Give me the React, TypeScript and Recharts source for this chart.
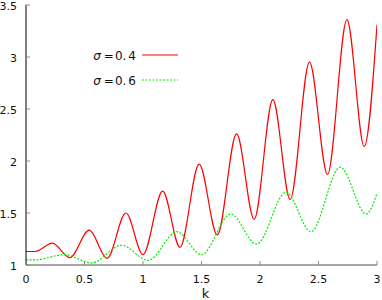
import React from 'react';
import { LineChart, Line, XAxis, YAxis } from 'recharts';

const xTicks = [0, 0.5, 1, 1.5, 2, 2.5, 3];
const yTicks = [1, 1.5, 2, 2.5, 3, 3.5];

const redK = [0, 0.08, 0.225, 0.374, 0.54, 0.693, 0.854, 1.0, 1.168, 1.316, 1.48, 1.635, 1.8, 1.95, 2.11, 2.258, 2.423, 2.577, 2.743, 2.891, 3.0];
const redV = [1.13, 1.13, 1.21, 1.07, 1.335, 1.065, 1.5, 1.1, 1.71, 1.17, 1.97, 1.29, 2.26, 1.44, 2.59, 1.63, 2.95, 1.87, 3.36, 2.14, 3.31];

const greenK = [0, 0.08, 0.33, 0.56, 0.816, 1.045, 1.29, 1.5, 1.75, 1.97, 2.223, 2.435, 2.686, 2.908, 3.0];
const greenV = [1.05, 1.05, 1.1, 1.02, 1.19, 1.045, 1.32, 1.1, 1.49, 1.2, 1.7, 1.32, 1.94, 1.49, 1.69];

const seriesNames = ['0.4', '0.6'];
const seriesColors = ['#ff0000', '#00ee00'];

const redData = redK.map((k, i) => ({ k, v: redV[i] }));
const greenData = greenK.map((k, i) => ({ k, v: greenV[i] }));

const FONT = 'DejaVu Sans';
const GRAY = '#8a8a8a';

const BottomTick = (props: any) => {
  const { x, y, payload } = props;
  return (
    <g>
      <line x1={x} y1={y} x2={x} y2={y - 4} stroke={GRAY} strokeWidth={1} />
      <text x={x} y={y + 18} textAnchor="middle" fontFamily={FONT} fontSize={11} fill="#111">
        {payload.value}
      </text>
    </g>
  );
};

const TopTick = (props: any) => {
  const { x, y } = props;
  return <line x1={x} y1={y} x2={x} y2={y + 4} stroke={GRAY} strokeWidth={1} />;
};

const LeftTick = (props: any) => {
  const { x, y, payload } = props;
  return (
    <g>
      <line x1={x} y1={y} x2={x + 4} y2={y} stroke={GRAY} strokeWidth={1} />
      <text x={x - 9} y={y + 5} textAnchor="end" fontFamily={FONT} fontSize={11} fill="#111">
        {payload.value}
      </text>
    </g>
  );
};

const RightTick = (props: any) => {
  const { x, y } = props;
  return <line x1={x} y1={y} x2={x - 4} y2={y} stroke={GRAY} strokeWidth={1} />;
};

export default function App() {
  return (
    <div style={{ position: 'absolute', left: 0, top: 0, width: 382, height: 300, background: '#fff' }}>
      <LineChart width={382} height={300} margin={{ top: 5, right: 5, left: 0, bottom: 0 }}>
        <XAxis
          xAxisId="b"
          type="number"
          dataKey="k"
          domain={[0, 3]}
          allowDataOverflow
          ticks={xTicks}
          interval={0}
          height={35}
          tickSize={0}
          tickMargin={0}
          tick={<BottomTick />}
          tickLine={false}
          axisLine={{ stroke: GRAY, strokeWidth: 1.5 }}
          label={{ value: 'k', position: 'insideBottom', offset: 2, dx: 4, fontFamily: FONT, fontSize: 13, fill: '#111' }}
        />
        <XAxis
          xAxisId="t"
          orientation="top"
          type="number"
          dataKey="k"
          domain={[0, 3]}
          allowDataOverflow
          ticks={xTicks}
          interval={0}
          height={0}
          tickSize={0}
          tickMargin={0}
          tick={<TopTick />}
          tickLine={false}
          axisLine={{ stroke: GRAY, strokeWidth: 1.5 }}
        />
        <YAxis
          yAxisId="l"
          type="number"
          domain={[1, 3.5]}
          allowDataOverflow
          ticks={yTicks}
          interval={0}
          width={26}
          tickSize={0}
          tickMargin={0}
          tick={<LeftTick />}
          tickLine={false}
          axisLine={{ stroke: '#000', strokeWidth: 1 }}
        />
        <YAxis
          yAxisId="r"
          orientation="right"
          type="number"
          domain={[1, 3.5]}
          allowDataOverflow
          ticks={yTicks}
          interval={0}
          width={0}
          tickSize={0}
          tickMargin={0}
          tick={<RightTick />}
          tickLine={false}
          axisLine={{ stroke: GRAY, strokeWidth: 1.5 }}
        />
        <Line
          xAxisId="b"
          yAxisId="l"
          data={redData}
          dataKey="v"
          type="monotone"
          stroke={seriesColors[0]}
          strokeWidth={1.2}
          dot={false}
          isAnimationActive={false}
        />
        <Line
          xAxisId="t"
          yAxisId="r"
          data={greenData}
          dataKey="v"
          type="monotone"
          stroke={seriesColors[1]}
          strokeWidth={1.2}
          strokeDasharray="2 1.5"
          dot={false}
          isAnimationActive={false}
        />
      </LineChart>
      <svg width={382} height={100} style={{ position: 'absolute', left: 0, top: 0, pointerEvents: 'none' }}>
        {seriesNames.map((name, i) => {
          const yy = 55 + i * 25;
          const [a, b] = name.split('.');
          return (
            <g key={name}>
              <text x={136} y={yy + 4.5} textAnchor="end" fontFamily={FONT} fontSize={12} fill="#111">
                <tspan fontStyle="italic">σ</tspan>
                <tspan dx={3}>=</tspan>
                <tspan dx={1}>{a}.</tspan>
                <tspan dx={2}>{b}</tspan>
              </text>
              <line
                x1={142}
                y1={yy}
                x2={178}
                y2={yy}
                stroke={seriesColors[i]}
                strokeWidth={1.2}
                strokeDasharray={i === 1 ? '2 1.5' : undefined}
              />
            </g>
          );
        })}
      </svg>
    </div>
  );
}
